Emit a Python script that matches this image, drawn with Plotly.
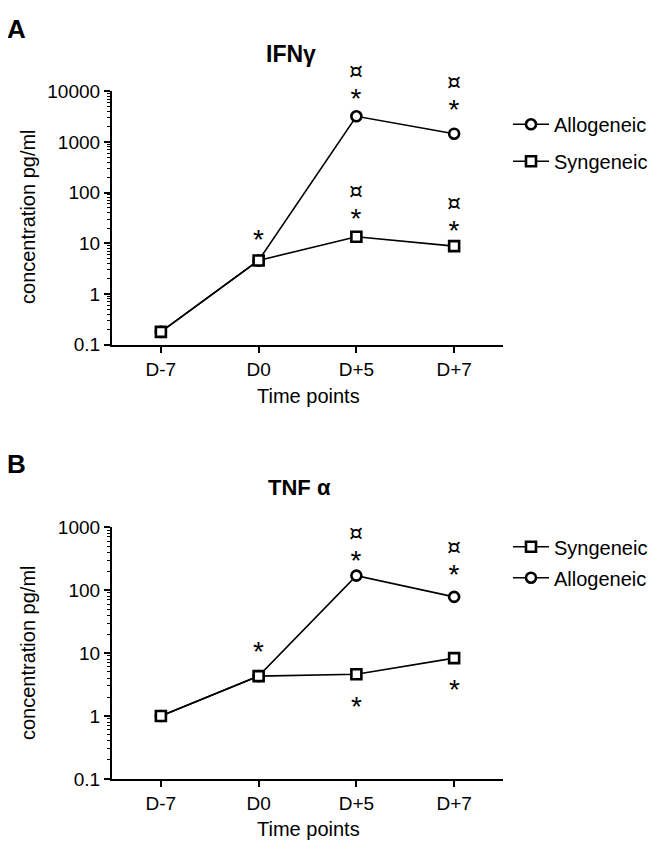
import math
import plotly.graph_objects as go

time_points = ["D-7", "D0", "D+5", "D+7"]

# Panel A: IFN-gamma
ifn_allo = [0.18, 4.6, 3200, 1450]
ifn_syn = [0.18, 4.6, 13.5, 8.8]
# Panel B: TNF-alpha
tnf_allo = [1.0, 4.3, 170, 78]
tnf_syn = [1.0, 4.3, 4.6, 8.3]

ytick_vals_a = [0.1, 1, 10, 100, 1000, 10000]
ytick_text_a = ["0.1", "1", "10", "100", "1000", "10000"]
ytick_vals_b = [0.1, 1, 10, 100, 1000]
ytick_text_b = ["0.1", "1", "10", "100", "1000"]

FONT = "Liberation Sans, Arial, sans-serif"
W, H = 662, 856
OFF = 8  # page body margin offset

def px_x(p):
    return (p - OFF) / W

def px_y(p):
    return 1 - (p - OFF) / H

fig = go.Figure()

def add_series(x, y, name, symbol, xa, ya, legend, rank, group):
    fig.add_trace(go.Scatter(
        x=x, y=y, name=name, mode="lines+markers",
        xaxis=xa, yaxis=ya, legend=legend, legendrank=rank, legendgroup=group,
        line=dict(color="black", width=1.6),
        marker=dict(symbol=symbol, size=10, color="white",
                    line=dict(color="black", width=2.6)),
    ))

add_series(time_points, ifn_allo, "Allogeneic", "circle", "x", "y", "legend", 1, "a1")
add_series(time_points, ifn_syn, "Syngeneic", "square", "x", "y", "legend", 2, "a2")
add_series(time_points, tnf_allo, "Allogeneic", "circle", "x2", "y2", "legend2", 2, "b1")
add_series(time_points, tnf_syn, "Syngeneic", "square", "x2", "y2", "legend2", 1, "b2")

axis_common = dict(showline=True, linecolor="black", linewidth=2.2, mirror=False,
                   showgrid=False, zeroline=False, ticks="outside", tickcolor="black",
                   tickwidth=2, ticklen=6,
                   tickfont=dict(family=FONT, size=19, color="black"))

def minor_vals(lo, hi):
    return [m * 10 ** e for e in range(lo, hi) for m in range(2, 10)]

minor_a = dict(ticks="outside", ticklen=3, tickwidth=1, tickcolor="black",
               tickmode="array", tickvals=minor_vals(-1, 4), showgrid=False)
minor_b = dict(ticks="outside", ticklen=3, tickwidth=1, tickcolor="black",
               tickmode="array", tickvals=minor_vals(-1, 3), showgrid=False)

xdom = [px_x(112), px_x(503)]
fig.update_layout(
    width=W, height=H, margin=dict(l=0, r=0, t=0, b=0),
    paper_bgcolor="white", plot_bgcolor="white",
    xaxis=dict(domain=xdom, anchor="y", type="category", range=[-0.5, 3.5], **axis_common),
    yaxis=dict(domain=[px_y(343), px_y(83)], anchor="x", type="log", range=[-1, 4],
               tickmode="array", tickvals=ytick_vals_a, ticktext=ytick_text_a,
               minor=minor_a, **axis_common),
    xaxis2=dict(domain=xdom, anchor="y2", type="category", range=[-0.5, 3.5], **axis_common),
    yaxis2=dict(domain=[px_y(788), px_y(530)], anchor="x2", type="log", range=[-1, 3],
                tickmode="array", tickvals=ytick_vals_b, ticktext=ytick_text_b,
                minor=minor_b, **axis_common),
    legend=dict(x=px_x(508), y=px_y(97), xanchor="left", yanchor="top",
                font=dict(family=FONT, size=20, color="black"), bgcolor="rgba(0,0,0,0)",
                tracegroupgap=8, itemwidth=36),
    legend2=dict(x=px_x(508), y=px_y(530), xanchor="left", yanchor="top",
                 font=dict(family=FONT, size=20, color="black"), bgcolor="rgba(0,0,0,0)",
                 tracegroupgap=2, itemwidth=36),
    showlegend=True,
)

annotations = []

def ann(x, y, text, size, bold=False, angle=0):
    annotations.append(dict(
        x=x, y=y, xref="paper", yref="paper", text=f"<b>{text}</b>" if bold else text,
        showarrow=False, textangle=angle, xanchor="center", yanchor="middle",
        font=dict(family=FONT, size=size, color="black")))

ann(px_x(16), px_y(19), "A", 26, bold=True)
ann(px_x(16), px_y(465), "B", 26, bold=True)
ann(px_x(291), px_y(45), "IFNγ", 23, bold=True)
ann(px_x(299), px_y(489), "TNF α", 22, bold=True)
ann(px_x(28), px_y(212), "concentration pg/ml", 20, angle=-90)
ann(px_x(28), px_y(659), "concentration pg/ml", 20, angle=-90)
ann(px_x(308), px_y(395), "Time points", 20)
ann(px_x(308), px_y(839), "Time points", 20)

STAR = "<span style='font-size:28px'>*</span>"
CURR = "<span style='font-family:DejaVu Sans;font-size:22px'>¤</span>"

# single star, placed relative to the data point (pixel offset)
def star(xcat, yval, shift, xa, ya):
    annotations.append(dict(
        x=xcat, y=math.log10(yval), xref=xa, yref=ya, text="*",
        showarrow=False, yshift=shift, xanchor="center", yanchor="middle",
        borderpad=0, borderwidth=0,
        font=dict(family=FONT, size=28, color="black")))

# stacked "¤ over *", bottom-anchored just above the data point
def star_curr(xcat, yval, shift, xa, ya):
    annotations.append(dict(
        x=xcat, y=math.log10(yval), xref=xa, yref=ya, text=CURR + "<br>" + STAR,
        showarrow=False, yshift=shift, xanchor="center", yanchor="bottom",
        borderpad=0, borderwidth=0,
        font=dict(family=FONT, size=23, color="black")))

# Panel A
star("D0", ifn_syn[1], 21, "x", "y")
star_curr("D+5", ifn_allo[2], 2, "x", "y")
star_curr("D+7", ifn_allo[3], 9, "x", "y")
star_curr("D+5", ifn_syn[2], 3, "x", "y")
star_curr("D+7", ifn_syn[3], 0, "x", "y")
# Panel B
star("D0", tnf_syn[1], 25, "x2", "y2")
star_curr("D+5", tnf_allo[2], 0, "x2", "y2")
star_curr("D+7", tnf_allo[3], 7, "x2", "y2")
star("D+5", tnf_syn[2], -32, "x2", "y2")
star("D+7", tnf_syn[3], -31, "x2", "y2")

fig.update_layout(annotations=annotations)
fig.write_html("out.html")
